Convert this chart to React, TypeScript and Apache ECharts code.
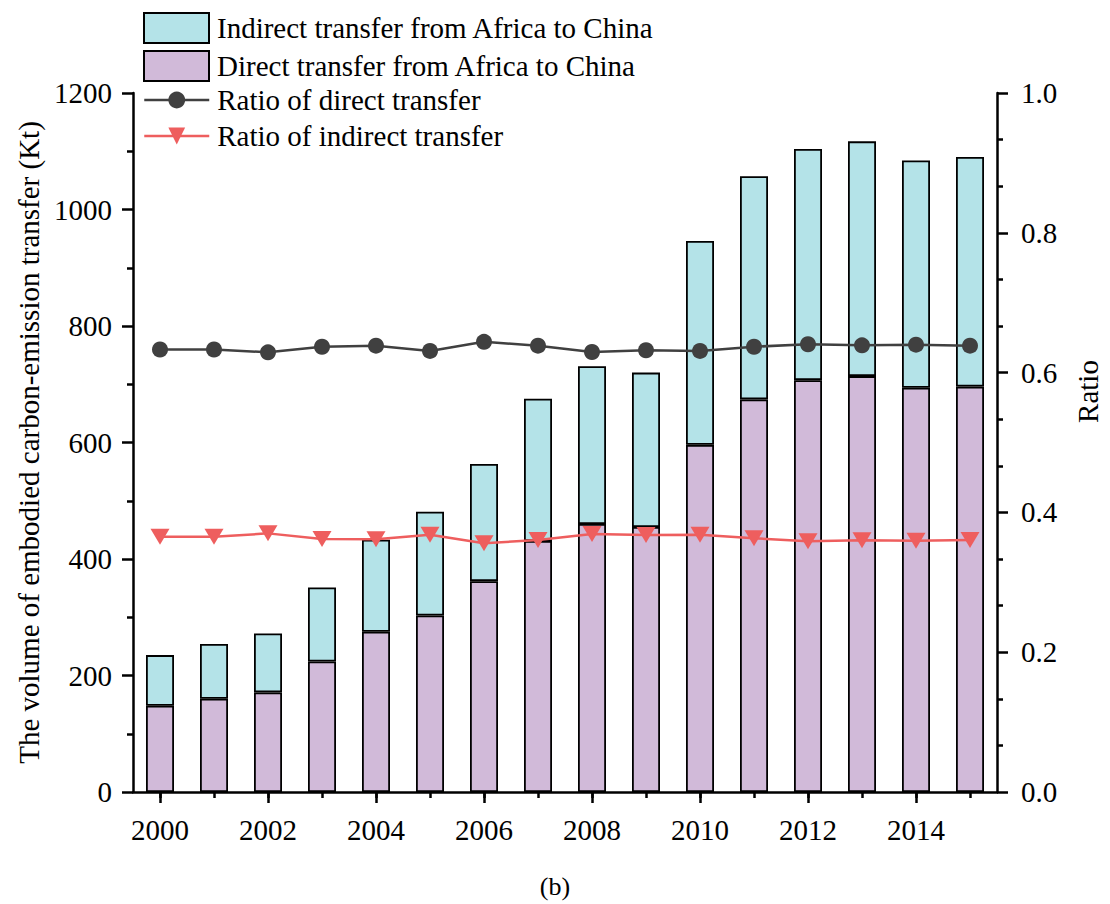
import React, { useEffect, useRef } from 'react';
import * as echarts from 'echarts';

const years = ['2000', '2001', '2002', '2003', '2004', '2005', '2006', '2007', '2008', '2009', '2010', '2011', '2012', '2013', '2014', '2015'];
const directTransfer = [148, 160, 171, 224, 275, 303, 362, 431, 460, 455, 596, 674, 707, 714, 694, 696];
const indirectTransfer = [87, 94, 101, 127, 158, 178, 201, 244, 271, 265, 350, 383, 397, 403, 390, 394];
const directRatio = [0.633, 0.633, 0.629, 0.637, 0.6385, 0.631, 0.644, 0.6385, 0.6295, 0.632, 0.631, 0.637, 0.6405, 0.639, 0.64, 0.6385];
const indirectRatio = [0.365, 0.365, 0.37, 0.362, 0.3615, 0.368, 0.356, 0.3605, 0.369, 0.3677, 0.368, 0.363, 0.3587, 0.36, 0.3595, 0.3605];

const leftAxisName = 'The volume of embodied carbon-emission transfer (Kt)';
const rightAxisName = 'Ratio';
const seriesNames = {
  indirect: 'Indirect transfer from Africa to China',
  direct: 'Direct transfer from Africa to China',
  directRatio: 'Ratio of direct transfer',
  indirectRatio: 'Ratio of indirect transfer',
};
const caption = '(b)';

const FONT = 'Liberation Serif';
const FS = 29;
const CYAN = '#B4E3E8';
const PURPLE = '#D1BAD9';
const DARK = '#404040';
const RED = '#EE5E5E';

export default function App() {
  const ref = useRef<HTMLDivElement>(null);
  useEffect(() => {
    if (!ref.current) return;
    const chart = echarts.init(ref.current, undefined, { renderer: 'svg' });
    const axisLineStyle = { color: '#000', width: 2.5 };
    const textBase = { fontFamily: FONT, fontSize: FS, color: '#000' };
    chart.setOption({
      animation: false,
      backgroundColor: '#fff',
      textStyle: { fontFamily: FONT },
      title: {
        text: caption,
        left: 'center',
        top: 868,
        textStyle: { ...textBase, fontWeight: 'normal', fontSize: 26 },
      },
      legend: [
        {
          data: [
            { name: seriesNames.indirect, icon: 'rect' },
            { name: seriesNames.direct, icon: 'rect' },
          ],
          orient: 'vertical',
          left: 143,
          top: 12,
          padding: 0,
          itemWidth: 65,
          itemHeight: 30,
          itemGap: 6,
          textStyle: { ...textBase, lineHeight: 30, padding: [0, 0, 0, 3] },
        },
        {
          data: [seriesNames.directRatio, seriesNames.indirectRatio],
          orient: 'vertical',
          left: 143,
          top: 85,
          padding: 0,
          itemWidth: 65,
          itemHeight: 21,
          itemGap: 6,
          lineStyle: { width: 2.5 },
          textStyle: { ...textBase, lineHeight: 30, padding: [0, 0, 0, 3] },
        },
      ],
      grid: { left: 133, right: 108, top: 93, bottom: 112, containLabel: false },
      xAxis: [
        {
          type: 'category',
          data: years,
          position: 'bottom',
          boundaryGap: true,
          axisLine: { lineStyle: axisLineStyle },
          axisTick: { show: true, interval: 1, alignWithLabel: true, length: 11, lineStyle: axisLineStyle },
          axisLabel: { interval: 1, margin: 23, ...textBase },
          splitLine: { show: false },
        },
        {
          type: 'category',
          data: years,
          position: 'bottom',
          boundaryGap: true,
          axisLine: { show: false },
          axisTick: { show: true, interval: 0, alignWithLabel: true, length: 6, lineStyle: axisLineStyle },
          axisLabel: { show: false },
          splitLine: { show: false },
        },
      ],
      yAxis: [
        {
          type: 'value',
          position: 'left',
          min: 0,
          max: 1200,
          interval: 200,
          name: leftAxisName,
          nameLocation: 'middle',
          nameRotate: 90,
          nameGap: 90,
          nameTextStyle: { ...textBase },
          axisLine: { show: true, lineStyle: axisLineStyle },
          axisTick: { show: true, length: 11, lineStyle: axisLineStyle },
          minorTick: { show: true, splitNumber: 2, length: 6, lineStyle: axisLineStyle },
          axisLabel: { margin: 21, ...textBase, formatter: (v: number) => String(v) },
          splitLine: { show: false },
          minorSplitLine: { show: false },
        },
        {
          type: 'value',
          position: 'right',
          min: 0,
          max: 1,
          interval: 0.2,
          name: rightAxisName,
          nameLocation: 'middle',
          nameRotate: 90,
          nameGap: 76,
          nameTextStyle: { ...textBase, padding: [0, 0, 0, 102] },
          axisLine: { show: true, lineStyle: axisLineStyle },
          axisTick: { show: true, length: 11, lineStyle: axisLineStyle },
          minorTick: { show: true, splitNumber: 3, length: 6, lineStyle: axisLineStyle },
          axisLabel: { margin: 24, ...textBase, formatter: (v: number) => v.toFixed(1) },
          splitLine: { show: false },
          minorSplitLine: { show: false },
        },
      ],
      series: [
        {
          name: seriesNames.direct,
          type: 'bar',
          stack: 'total',
          xAxisIndex: 0,
          yAxisIndex: 0,
          barWidth: 28,
          data: directTransfer,
          itemStyle: { color: PURPLE, borderColor: '#000', borderWidth: 1.8 },
          z: 2,
        },
        {
          name: seriesNames.indirect,
          type: 'bar',
          stack: 'total',
          xAxisIndex: 0,
          yAxisIndex: 0,
          barWidth: 28,
          data: indirectTransfer,
          itemStyle: { color: CYAN, borderColor: '#000', borderWidth: 1.8 },
          z: 2,
        },
        {
          name: seriesNames.directRatio,
          type: 'line',
          xAxisIndex: 0,
          yAxisIndex: 1,
          data: directRatio,
          symbol: 'circle',
          symbolSize: 16,
          lineStyle: { color: DARK, width: 2.5 },
          itemStyle: { color: DARK },
          z: 5,
        },
        {
          name: seriesNames.indirectRatio,
          type: 'line',
          xAxisIndex: 0,
          yAxisIndex: 1,
          data: indirectRatio,
          symbol: 'triangle',
          symbolRotate: 180,
          symbolSize: [19, 16],
          lineStyle: { color: RED, width: 2.5 },
          itemStyle: { color: RED },
          z: 5,
        },
      ],
    });
    return () => chart.dispose();
  }, []);
  return <div ref={ref} style={{ position: 'absolute', left: 0, top: 0, width: 1110, height: 904 }} />;
}
